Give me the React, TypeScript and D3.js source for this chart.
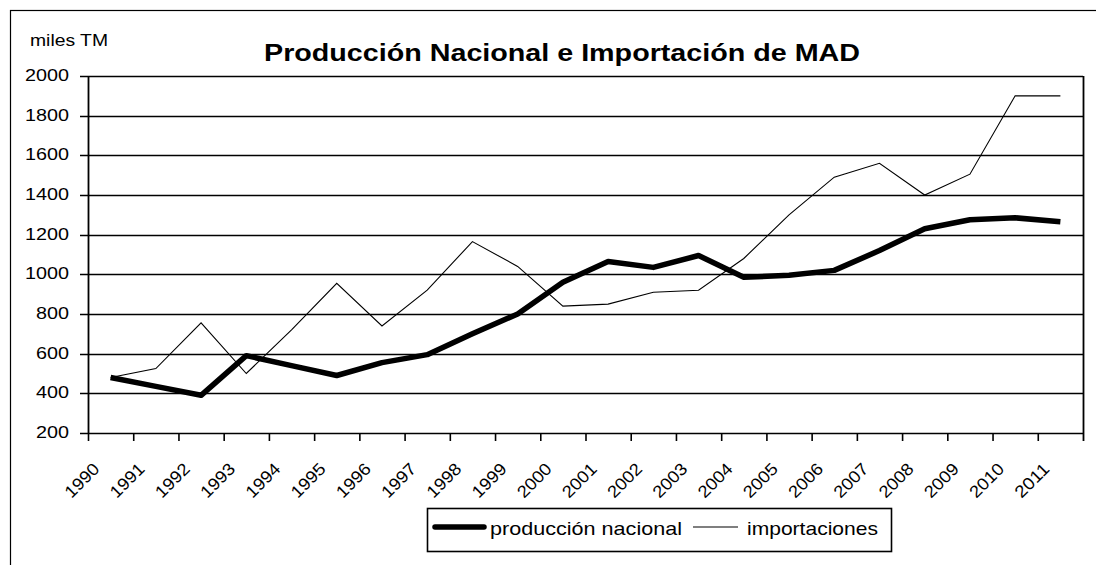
import React from "react";
import * as d3 from "d3";

const years = ["1990","1991","1992","1993","1994","1995","1996","1997","1998","1999","2000","2001","2002","2003","2004","2005","2006","2007","2008","2009","2010","2011"];
const produccion = [480, 435, 390, 590, 540, 490, 555, 595, 700, 800, 960, 1065, 1035, 1095, 985, 995, 1020, 1120, 1230, 1275, 1285, 1265];
const importaciones = [480, 525, 755, 500, 720, 955, 740, 920, 1165, 1040, 840, 850, 910, 920, 1080, 1300, 1490, 1560, 1400, 1505, 1900, 1900];
const yTicks = [200, 400, 600, 800, 1000, 1200, 1400, 1600, 1800, 2000];

const W = 1096, H = 565;
const left = 88, right = 1083, top = 76, bottom = 433;
const FONT = "Arial, 'Liberation Sans', sans-serif";

export default function App() {
  const x = d3.scaleBand<string>().domain(years).range([left, right]).padding(0);
  const y = d3.scaleLinear().domain([200, 2000]).range([bottom, top]);
  const line = d3.line<number>()
    .x((_, i) => (x(years[i]) as number) + x.bandwidth() / 2)
    .y((d) => y(d));

  return (
    <svg width={W} height={H} style={{ position: "absolute", left: 0, top: 0, background: "#fff" }}>
      <rect x={10.5} y={10.5} width={1200} height={700} fill="#fff" stroke="#000" strokeWidth={1.2} />
      <text x={30} y={46} fontFamily={FONT} fontSize={17} fill="#000" textLength={78} lengthAdjust="spacingAndGlyphs">miles TM</text>
      <text x={264} y={61} fontFamily={FONT} fontSize={23} fontWeight="bold" fill="#000" textLength={596} lengthAdjust="spacingAndGlyphs">
        Producción Nacional e Importación de MAD
      </text>
      {yTicks.map((t) => (
        <g key={t}>
          <line x1={left - 8} x2={right} y1={Math.round(y(t)) + 0.5} y2={Math.round(y(t)) + 0.5} stroke="#000" strokeWidth={1.6} />
          <text x={69} y={y(t) + 5} textAnchor="end" fontFamily={FONT} fontSize={17} fill="#000"
            textLength={String(t).length * 11} lengthAdjust="spacingAndGlyphs">{t}</text>
        </g>
      ))}
      <line x1={left + 0.5} x2={left + 0.5} y1={top} y2={bottom + 1} stroke="#000" strokeWidth={1.8} />
      <line x1={right + 0.5} x2={right + 0.5} y1={top} y2={bottom + 8} stroke="#000" strokeWidth={1.8} />
      {years.map((yr) => (
        <line key={"t" + yr} x1={(x(yr) as number) + 0.5} x2={(x(yr) as number) + 0.5} y1={bottom} y2={bottom + 8} stroke="#000" strokeWidth={1.6} />
      ))}
      {years.map((yr) => {
        const cx = (x(yr) as number) + x.bandwidth() / 2 - 10;
        const cy = 470;
        return (
          <text key={"l" + yr} x={cx} y={cy} textAnchor="end" fontFamily={FONT} fontSize={17} fill="#000"
            textLength={41} lengthAdjust="spacingAndGlyphs"
            transform={`rotate(-45, ${cx}, ${cy})`}>{yr}</text>
        );
      })}
      <path d={line(importaciones) || ""} fill="none" stroke="#000" strokeWidth={1.1} />
      <path d={line(produccion) || ""} fill="none" stroke="#000" strokeWidth={5.5} strokeLinejoin="round" />
      <rect x={427.5} y={508.5} width={464} height={43} fill="#fff" stroke="#000" strokeWidth={1.6} />
      <line x1={435} x2={484} y1={527} y2={527} stroke="#000" strokeWidth={5.5} strokeLinecap="round" />
      <text x={490} y={535} fontFamily={FONT} fontSize={19} fill="#000" textLength={192} lengthAdjust="spacingAndGlyphs">producción nacional</text>
      <line x1={693} x2={738} y1={527} y2={527} stroke="#000" strokeWidth={1.1} />
      <text x={747} y={535} fontFamily={FONT} fontSize={19} fill="#000" textLength={131} lengthAdjust="spacingAndGlyphs">importaciones</text>
    </svg>
  );
}
